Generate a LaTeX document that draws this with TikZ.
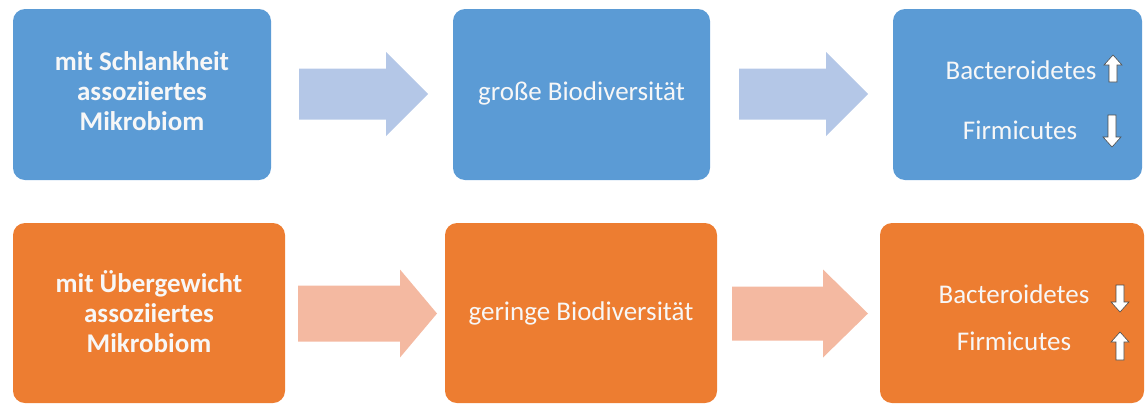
\documentclass[tikz,border=0pt]{standalone}
\usepackage{fontspec}
\setmainfont{Carlito}
\definecolor{boxblue}{HTML}{5B9BD5}
\definecolor{boxorange}{HTML}{ED7D31}
\definecolor{arrblue}{HTML}{B4C7E7}
\definecolor{arrorange}{HTML}{F4B9A1}
\definecolor{txtwhite}{HTML}{F7F7F7}
\newcommand\fatarrow[7]{\fill[#1] (#2,{#5-#6}) -- (#3,{#5-#6}) -- (#3,{#5-#7}) -- (#4,#5) -- (#3,{#5+#7}) -- (#3,{#5+#6}) -- (#2,{#5+#6}) -- cycle;}
\newcommand\uparr[3]{\filldraw[smallarr] (#1,#2) -- ({#1+9},{#2+10}) -- ({#1+4},{#2+10}) -- ({#1+4},#3) -- ({#1-4},#3) -- ({#1-4},{#2+10}) -- ({#1-9},{#2+10}) -- cycle;}
\newcommand\downarr[3]{\filldraw[smallarr] (#1,#3) -- ({#1+9},{#3-10}) -- ({#1+4},{#3-10}) -- ({#1+4},#2) -- ({#1-4},#2) -- ({#1-4},{#3-10}) -- ({#1-9},{#3-10}) -- cycle;}
\begin{document}
\begin{tikzpicture}[x=1pt,y=-1pt,
  box/.style={rectangle, rounded corners=12pt, inner sep=0pt},
  bluebox/.style={box, fill=boxblue},
  orangebox/.style={box, fill=boxorange},
  lbl/.style={text=txtwhite, inner sep=0pt, anchor=base, font=\fontsize{27}{30}\selectfont},
  boldlbl/.style={lbl, align=center, font=\fontsize{27}{30}\selectfont\bfseries},
  smallarr/.style={fill=white, draw=black!70, line width=0.6pt, line join=miter}]
\useasboundingbox (0,0) rectangle (1145,405);
% row 1
\node[bluebox, minimum width=258pt, minimum height=171pt] (a1) at (142,94.5) {};
\node[bluebox, minimum width=257pt, minimum height=171pt] (b1) at (581.5,94.5) {};
\node[bluebox, minimum width=249pt, minimum height=171pt] (c1) at (1017.5,94.5) {};
% row 2
\node[orangebox, minimum width=272pt, minimum height=180pt] (a2) at (149,313) {};
\node[orangebox, minimum width=272pt, minimum height=180pt] (b2) at (581,313) {};
\node[orangebox, minimum width=264pt, minimum height=180pt] (c2) at (1012,313) {};
% texts
\node[boldlbl] (ta1) at (142,130) {mit Schlankheit\\assoziiertes\\Mikrobiom};
\node[lbl] (tb1) at (581.5,100) {große Biodiversität};
\node[lbl] (tc1a) at (1021,79) {Bacteroidetes};
\node[lbl] (tc1b) at (1020,139) {Firmicutes};
\node[boldlbl] (ta2) at (149,352) {mit Übergewicht\\assoziiertes\\Mikrobiom};
\node[lbl] (tb2) at (581,320) {geringe Biodiversität};
\node[lbl] (tc2a) at (1014,303) {Bacteroidetes};
\node[lbl] (tc2b) at (1014,350) {Firmicutes};
% fat arrows
\fatarrow{arrblue}{299}{386}{428}{94}{25.5}{42}
\fatarrow{arrblue}{739}{826}{868}{94}{25.5}{42}
\fatarrow{arrorange}{298}{400}{437}{313.5}{28}{44}
\fatarrow{arrorange}{732}{823}{868}{313.5}{27}{44}
% small arrows
\uparr{1113}{55}{82}
\downarr{1112}{115}{147}
\downarr{1120}{285}{312}
\uparr{1120}{332}{360}
\end{tikzpicture}
\end{document}
